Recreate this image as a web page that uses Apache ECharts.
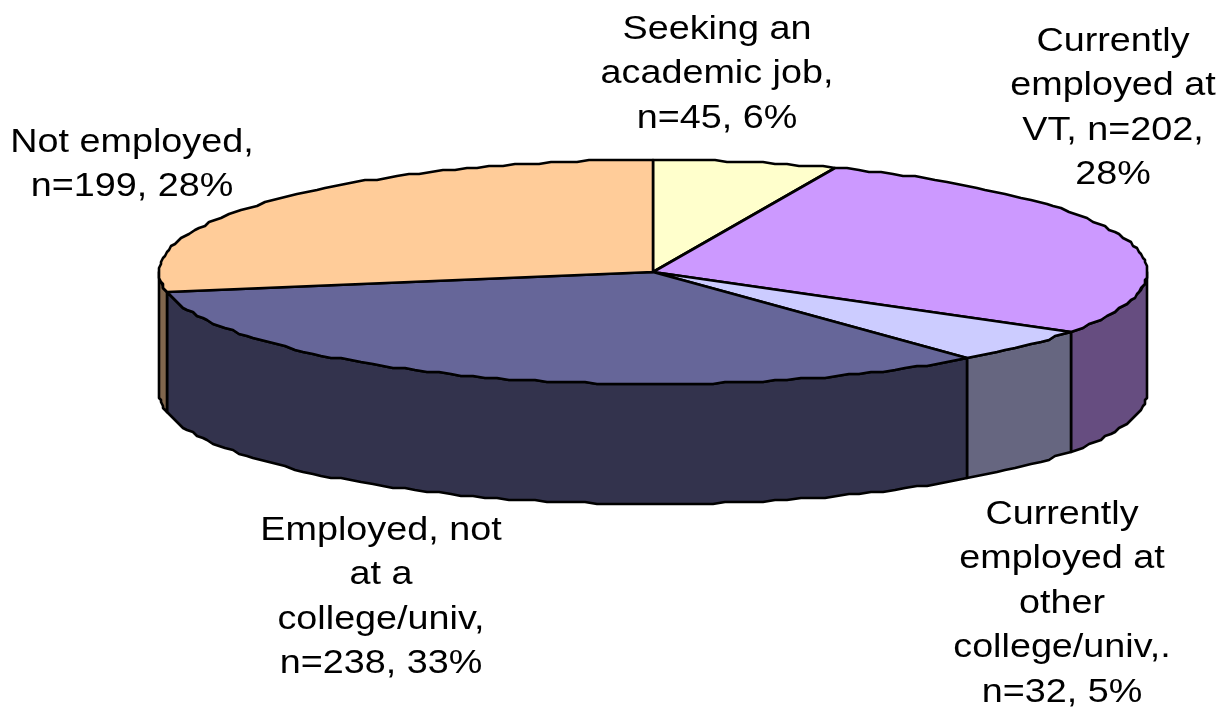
<!DOCTYPE html>
<html><head><meta charset="utf-8">
<style>html,body{margin:0;padding:0;background:#fff}#c{width:1222px;height:707px}</style>
<script src="https://cdn.jsdelivr.net/npm/echarts@6/dist/echarts.min.js"></script>
</head><body><div id="c"></div>
<script>
var categories = ['Seeking an\nacademic job,\nn=45, 6%',
  'Currently\nemployed at\nVT, n=202,\n28%',
  'Currently\nemployed at\nother\ncollege/univ,.\nn=32, 5%',
  'Employed, not\nat a\ncollege/univ,\nn=238, 33%',
  'Not employed,\nn=199, 28%'];
var percents = [6, 28, 5, 33, 28];
var topColors = ['#FFFFCC', '#CC99FF', '#CCCCFF', '#666699', '#FFCC99'];
var sideColors = ['#80804D', '#664D80', '#666680', '#33334D', '#80664D'];
var labelAnchors = [[717, 7], [1113, 19], [1062, 492], [381, 508], [132, 120]];

var CX = 653, CY = 272, RX = 494, RY = 112, DEPTH = 120;
var FONT = 34, LINE = 44.6, STRETCH = 1.11;
var total = percents.reduce(function (a, b) { return a + b; }, 0);
var starts = [], acc = 0;
percents.forEach(function (v) { starts.push(acc / total * 360); acc += v; });

function pt(deg, dy) {
  var r = deg * Math.PI / 180;
  return [CX + Math.round(RX * Math.sin(r) / 2) * 2,
          CY - Math.round(RY * Math.cos(r) / 2) * 2 + (dy || 0)];
}
function arc(a, b, dy) {
  var out = [], n = Math.max(1, Math.ceil((b - a) / 1.5));
  for (var i = 0; i <= n; i++) out.push(pt(a + (b - a) * i / n, dy));
  return out;
}
var lineStyle = { stroke: '#000', lineWidth: 2.6, lineJoin: 'round' };
function styled(fill) { return Object.assign({ fill: fill }, lineStyle); }

function renderItem(params, api) {
  var i = params.dataIndex, a = starts[i], b = a + api.value(0) / total * 360;
  var kids = [];
  var s = Math.max(a, 90), e = Math.min(b, 270);
  if (e > s) {
    kids.push({ type: 'polygon', z2: 1,
      shape: { points: arc(s, e, 0).concat(arc(s, e, DEPTH).reverse()) },
      style: styled(sideColors[i]) });
  }
  kids.push({ type: 'polygon', z2: 2,
    shape: { points: [[CX, CY]].concat(arc(a, b, 0)) },
    style: styled(topColors[i]) });
  return { type: 'group', children: kids };
}
var chart = echarts.init(document.getElementById('c'), null, { renderer: 'canvas' });
chart.setOption({
  animation: false,
  series: [{
    type: 'custom', coordinateSystem: 'none', silent: true, clip: false,
    renderItem: renderItem,
    data: percents.map(function (v, i) { return { name: categories[i], value: [v] }; })
  }],
  graphic: categories.map(function (t, i) {
    return { type: 'text', x: labelAnchors[i][0], y: labelAnchors[i][1], scaleX: STRETCH, silent: true,
      style: { text: t, fill: '#000', align: 'center', verticalAlign: 'top',
        font: FONT + 'px "Liberation Sans", Arial, sans-serif', lineHeight: LINE } };
  })
});
</script></body></html>
